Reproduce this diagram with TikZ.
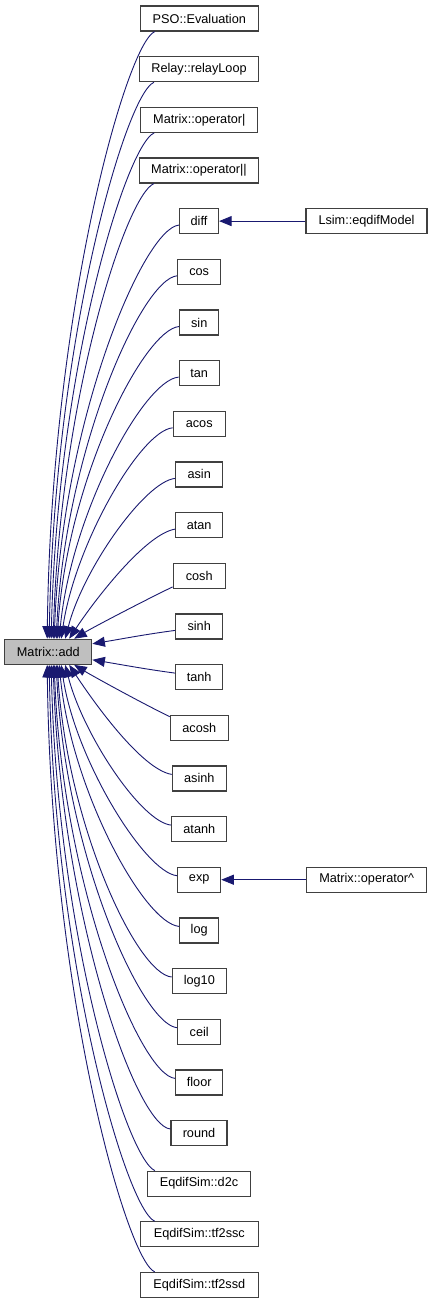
\documentclass[tikz,border=0pt]{standalone}
\usepackage{fontspec}
\setmainfont{Liberation Sans}
\usetikzlibrary{calc,arrows.meta}
\definecolor{edgeblue}{HTML}{191970}
\definecolor{boxline}{HTML}{404040}
\definecolor{mainfill}{HTML}{BFBFBF}
\begin{document}
\begin{tikzpicture}[x=1pt,y=-1pt,
  fn/.style={draw=boxline, line width=1.2pt, fill=white, minimum height=25pt,
    inner sep=0pt, font=\fontsize{12.7}{15}\selectfont},
  mainfn/.style={fn, fill=mainfill},
  edge/.style={draw=edgeblue, line width=0.9pt, -{Triangle[length=12.5pt,width=10pt]}}]
\useasboundingbox[fill=white] (0,0) rectangle (432,1304);

% main node
\node[mainfn, minimum width=87pt] (add) at (48.3,651.8) {Matrix::add};

% callers
\node[fn, minimum width=118pt] (pso)    at (199.3,18.5)  {PSO::Evaluation};
\node[fn, minimum width=119pt] (relay)  at (199.0,69.2)  {Relay::relayLoop};
\node[fn, minimum width=117pt] (opor)   at (199.3,119.8) {Matrix::operator|};
\node[fn, minimum width=119pt] (oporor) at (199.0,170.5) {Matrix::operator||};
\node[fn, minimum width=39pt]  (diff)   at (199.0,221.1) {diff};
\node[fn, minimum width=43pt]  (cos)    at (199.2,271.8) {cos};
\node[fn, minimum width=39pt]  (sin)    at (199.2,322.5) {sin};
\node[fn, minimum width=40pt]  (tan)    at (199.2,373.1) {tan};
\node[fn, minimum width=52pt]  (acos)   at (199.2,423.8) {acos};
\node[fn, minimum width=47pt]  (asin)   at (199.2,474.4) {asin};
\node[fn, minimum width=47pt]  (atan)   at (199.2,525.1) {atan};
\node[fn, minimum width=52pt]  (cosh)   at (199.2,575.8) {cosh};
\node[fn, minimum width=47pt]  (sinh)   at (199.2,626.4) {sinh};
\node[fn, minimum width=47pt]  (tanh)   at (199.2,677.1) {tanh};
\node[fn, minimum width=58pt]  (acosh)  at (199.3,727.7) {acosh};
\node[fn, minimum width=54pt]  (asinh)  at (199.3,778.4) {asinh};
\node[fn, minimum width=55pt]  (atanh)  at (199.3,829.1) {atanh};
\node[fn, minimum width=43pt]  (exp)    at (199.2,879.7) {exp};
\node[fn, minimum width=39pt]  (log)    at (199.2,930.4) {log};
\node[fn, minimum width=54pt]  (logten) at (199.3,981.0) {log10};
\node[fn, minimum width=43pt]  (ceil)   at (199.2,1031.7) {ceil};
\node[fn, minimum width=47pt]  (floor)  at (199.2,1082.4) {floor};
\node[fn, minimum width=56pt]  (round)  at (199.0,1133.0) {round};
\node[fn, minimum width=103pt] (dtc)    at (199.0,1183.7) {EqdifSim::d2c};
\node[fn, minimum width=118pt] (tfssc)  at (199.3,1234.3) {EqdifSim::tf2ssc};
\node[fn, minimum width=118pt] (tfssd)  at (199.3,1285.0) {EqdifSim::tf2ssd};

% second-level callers
\node[fn, minimum width=121pt] (lsim)  at (366.5,221.1) {Lsim::eqdifModel};
\node[fn, minimum width=120pt] (oppow) at (366.7,879.7) {Matrix::operator\^{}};

\draw[edge] (lsim.west) -- (diff.east);
\draw[edge] (oppow.west) -- (exp.east);

% upper edges
\draw[edge] ($(pso.south west)+(15,0)$)    .. controls +(-28,12) and +(4,-330) .. ($(add.north west)+(43,0)$);
\draw[edge] ($(relay.south west)+(15,0)$)  .. controls +(-28,12) and +(5,-300) .. ($(add.north west)+(45,0)$);
\draw[edge] ($(opor.south west)+(14,0)$)   .. controls +(-28,12) and +(6,-270) .. ($(add.north west)+(47,0)$);
\draw[edge] ($(oporor.south west)+(15,0)$) .. controls +(-28,12) and +(7,-240) .. ($(add.north west)+(49,0)$);
\draw[edge] ($(diff.west)+(0,4)$) .. controls +(-35,3) and +(8,-220) .. ($(add.north west)+(50,0)$);
\draw[edge] ($(cos.west)+(0,4)$)  .. controls +(-35,3) and +(9,-190) .. ($(add.north west)+(52,0)$);
\draw[edge] ($(sin.west)+(0,4)$)  .. controls +(-35,3) and +(10,-160) .. ($(add.north west)+(53,0)$);
\draw[edge] ($(tan.west)+(0,4)$)  .. controls +(-35,3) and +(12,-125) .. ($(add.north west)+(55,0)$);
\draw[edge] ($(acos.west)+(0,4)$) .. controls +(-32,3) and +(14,-95) .. ($(add.north west)+(57,0)$);
\draw[edge] ($(asin.west)+(0,4)$) .. controls +(-30,3) and +(18,-70) .. ($(add.north west)+(61,0)$);
\draw[edge] ($(atan.west)+(0,4)$) .. controls +(-30,5) and +(25,-38) .. ($(add.north west)+(65,0)$);
\draw[edge] ($(cosh.south west)+(0,-2)$) .. controls +(-25,12) and +(20,-12) .. ($(add.north west)+(70,0)$);
\draw[edge] ($(sinh.west)+(0,4)$) .. controls +(-30,4) and +(30,-5) .. ($(add.east)+(0,-8)$);
% lower edges
\draw[edge] ($(tanh.west)+(0,-4)$) .. controls +(-30,-4) and +(30,5) .. ($(add.east)+(0,8)$);
\draw[edge] ($(acosh.north west)+(0,2)$) .. controls +(-25,-12) and +(20,12) .. ($(add.south west)+(70,0)$);
\draw[edge] ($(asinh.west)+(0,-4)$) .. controls +(-30,-5) and +(25,38) .. ($(add.south west)+(65,0)$);
\draw[edge] ($(atanh.west)+(0,-4)$) .. controls +(-30,-3) and +(18,70) .. ($(add.south west)+(61,0)$);
\draw[edge] ($(exp.west)+(0,-4)$)   .. controls +(-32,-3) and +(14,95) .. ($(add.south west)+(57,0)$);
\draw[edge] ($(log.west)+(0,-4)$)   .. controls +(-35,-3) and +(12,125) .. ($(add.south west)+(55,0)$);
\draw[edge] ($(logten.west)+(0,-4)$) .. controls +(-35,-3) and +(10,160) .. ($(add.south west)+(53,0)$);
\draw[edge] ($(ceil.west)+(0,-4)$)  .. controls +(-35,-3) and +(9,190) .. ($(add.south west)+(52,0)$);
\draw[edge] ($(floor.west)+(0,-4)$) .. controls +(-35,-3) and +(8,220) .. ($(add.south west)+(50,0)$);
\draw[edge] ($(round.west)+(0,-4)$) .. controls +(-35,-3) and +(7,245) .. ($(add.south west)+(49,0)$);
\draw[edge] ($(dtc.north west)+(8,0)$)    .. controls +(-28,-12) and +(6,270) .. ($(add.south west)+(47,0)$);
\draw[edge] ($(tfssc.north west)+(15,0)$) .. controls +(-28,-12) and +(5,300) .. ($(add.south west)+(45,0)$);
\draw[edge] ($(tfssd.north west)+(15,0)$) .. controls +(-28,-12) and +(4,330) .. ($(add.south west)+(43,0)$);
\end{tikzpicture}
\end{document}
